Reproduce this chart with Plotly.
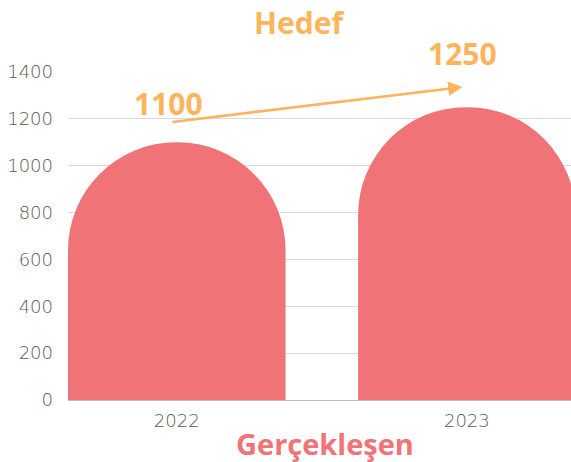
import plotly.graph_objects as go

years = ["2022", "2023"]
gerceklesen = [1100, 1250]
hedef = [1100, 1250]
y_ticks = [0, 200, 400, 600, 800, 1000, 1200, 1400]

BAR = "#F07377"
ORANGE = "#FDB45C"
GRAY = "#595959"

xpos = list(range(len(years)))

fig = go.Figure()
fig.add_trace(go.Bar(
    x=xpos, y=gerceklesen, width=0.75,
    marker=dict(color=BAR, cornerradius="50%", line=dict(width=0)),
    hoverinfo="skip", showlegend=False,
))

# arrow between the target values
fig.add_annotation(
    x=xpos[1] - 0.015, y=hedef[1] + 86, ax=xpos[0] - 0.02, ay=hedef[0] + 86,
    xref="x", yref="y", axref="x", ayref="y", text="",
    showarrow=True, arrowhead=2, arrowsize=1.1, arrowwidth=2.6,
    arrowcolor=ORANGE, standoff=0, startstandoff=0,
)
fig.add_annotation(x=xpos[0] - 0.03, y=hedef[0], yshift=39, text=f"<b>{hedef[0]}</b>",
                   showarrow=False, font=dict(family="Open Sans", size=30, color=ORANGE),
                   yanchor="middle")
fig.add_annotation(x=xpos[1] - 0.015, y=hedef[1], yshift=54, text=f"<b>{hedef[1]}</b>",
                   showarrow=False, font=dict(family="Open Sans", size=30, color=ORANGE),
                   yanchor="middle")
fig.add_annotation(x=0.459, y=1.152, xref="paper", yref="paper", text="<b>Hedef</b>",
                   showarrow=False, font=dict(family="Open Sans", size=30, color=ORANGE),
                   yanchor="middle")
fig.add_annotation(x=0.511, y=-0.132, xref="paper", yref="paper", text="<b>Gerçekleşen</b>",
                   showarrow=False, font=dict(family="Open Sans", size=29, color=BAR),
                   yanchor="middle")

tick_font = dict(family="DejaVu Sans", size=18, color=GRAY, weight=200)

fig.update_layout(
    width=571, height=462,
    margin=dict(l=68, r=0, t=72, b=62, autoexpand=False),
    paper_bgcolor="white", plot_bgcolor="white",
    xaxis=dict(range=[-0.375, 1.359], tickvals=xpos, ticktext=years, automargin=False,
               showgrid=False, zeroline=False, showline=True, linecolor="#bfbfbf",
               linewidth=1, ticks="", ticklabelstandoff=4, tickfont=tick_font),
    yaxis=dict(range=[0, 1400], tickvals=y_ticks, showgrid=True, gridcolor="#d9d9d9",
               gridwidth=1, zeroline=False, ticks="", ticklabelstandoff=14, automargin=False,
               tickfont=tick_font),
)

fig.write_html("out.html", config={"displayModeBar": False},
               post_script="document.body.style.margin='0';document.body.style.overflow='hidden';")
